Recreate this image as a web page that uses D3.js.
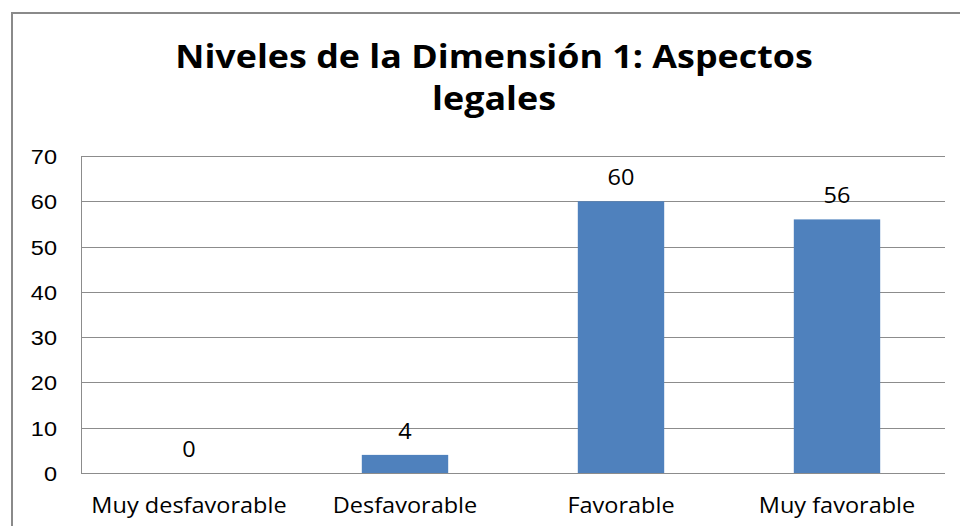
<!DOCTYPE html>
<html>
<head>
<meta charset="utf-8">
<script src="https://cdn.jsdelivr.net/npm/d3@7"></script>
<style>
  html, body { margin: 0; padding: 0; background: #fff; }
  svg { display: block; font-family: "Open Sans", sans-serif; }
  .grid line { stroke: #8c8c8c; stroke-width: 1; shape-rendering: crispEdges; }
  .grid .domain { display: none; }
  .tick text { font-size: 21px; fill: #000; }
</style>
</head>
<body>
<svg id="chart" width="960" height="526"></svg>
<script>
const categories = ['Muy desfavorable', 'Desfavorable', 'Favorable', 'Muy favorable'];
const values = [0, 4, 60, 56];
const yTicks = [0, 10, 20, 30, 40, 50, 60, 70];
const titleLines = ['Niveles de la Dimensión 1: Aspectos', 'legales'];

const W = 960, H = 526;
const MARGIN = { TOP: 156, BOTTOM: 53, LEFT: 81, RIGHT: 15 };
const STRETCH = 1.12; // the original text is a bit wider than it is tall
const BAR_COLOR = '#4f81bd';

const svg = d3.select('#chart');

// frame of the chart object (top and left edges are visible)
svg.append('line')
  .attr('x1', 12).attr('x2', W).attr('y1', 13).attr('y2', 13)
  .attr('stroke', '#8a8a8a').attr('stroke-width', 2);
svg.append('line')
  .attr('x1', 12).attr('x2', 12).attr('y1', 12).attr('y2', H)
  .attr('stroke', '#8a8a8a').attr('stroke-width', 2);

const x = d3.scaleBand()
  .domain(categories)
  .range([MARGIN.LEFT, W - MARGIN.RIGHT])
  .paddingInner(0.6)
  .paddingOuter(0.3);

const y = d3.scaleLinear()
  .domain([0, 70])
  .range([H - MARGIN.BOTTOM, MARGIN.TOP]);

// title
svg.append('g')
  .selectAll('text')
  .data(titleLines)
  .enter()
  .append('text')
  .attr('transform', (d, i) => `translate(494, ${68 + i * 42}) scale(${STRETCH}, 1)`)
  .attr('text-anchor', 'middle')
  .attr('font-size', 32)
  .attr('font-weight', 700)
  .attr('fill', '#000')
  .text(d => d);

// gridlines + y tick labels
const gAxis = svg.append('g')
  .attr('class', 'grid')
  .attr('transform', `translate(${MARGIN.LEFT}, 0)`)
  .call(d3.axisLeft(y)
    .tickValues(yTicks)
    .tickSize(-(W - MARGIN.RIGHT - MARGIN.LEFT))
    .tickFormat(d3.format('d')));

gAxis.selectAll('.tick text')
  .attr('x', 0)
  .attr('dy', '0.36em')
  .attr('transform', `translate(-24, 0) scale(${STRETCH}, 1)`)
  .attr('text-anchor', 'end');

// vertical axis line
svg.append('line')
  .attr('x1', MARGIN.LEFT).attr('x2', MARGIN.LEFT)
  .attr('y1', y(70)).attr('y2', y(0))
  .attr('stroke', '#8c8c8c')
  .attr('shape-rendering', 'crispEdges');

// bars
svg.append('g')
  .selectAll('rect')
  .data(values)
  .enter()
  .append('rect')
  .attr('x', (d, i) => x(categories[i]))
  .attr('y', d => y(d))
  .attr('width', x.bandwidth())
  .attr('height', d => y(0) - y(d))
  .attr('fill', BAR_COLOR);

// data labels
svg.append('g')
  .selectAll('text')
  .data(values)
  .enter()
  .append('text')
  .attr('transform', (d, i) =>
    `translate(${x(categories[i]) + x.bandwidth() / 2}, ${y(d) - 16}) scale(${STRETCH}, 1)`)
  .attr('text-anchor', 'middle')
  .attr('font-size', 21)
  .attr('fill', '#000')
  .text(d => d);

// category labels
svg.append('g')
  .selectAll('text')
  .data(categories)
  .enter()
  .append('text')
  .attr('transform', d =>
    `translate(${x(d) + x.bandwidth() / 2}, 513) scale(${STRETCH}, 1)`)
  .attr('text-anchor', 'middle')
  .attr('font-size', 21)
  .attr('fill', '#000')
  .text(d => d);
</script>
</body>
</html>
